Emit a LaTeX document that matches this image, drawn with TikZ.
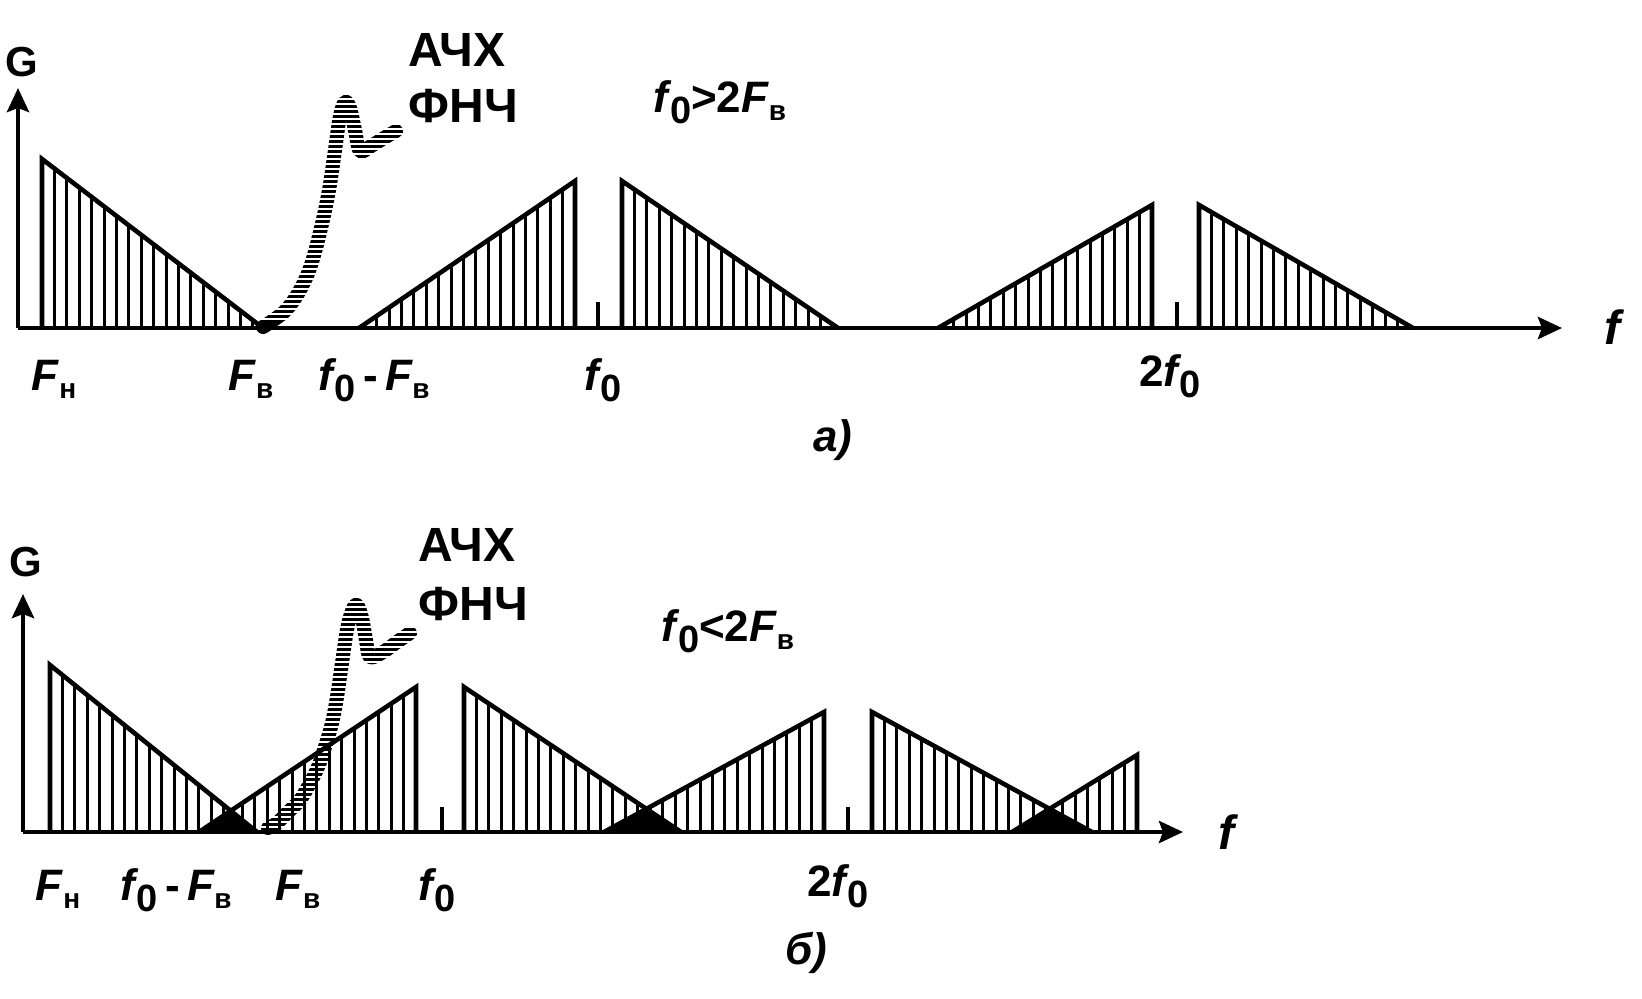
\documentclass[tikz,border=0pt]{standalone}
\usepackage{fontspec}
\setmainfont{Liberation Sans}
\usetikzlibrary{arrows.meta}

\newcommand\Fs[1]{{\itshape F}\kern0.3pt\raisebox{-0.35ex}{\fontsize{14}{14}\selectfont\bfseries #1}}
\newcommand\fo{{\itshape f}\kern0.8pt\raisebox{-0.5ex}{\fontsize{19}{19}\selectfont\bfseries 0}}

\tikzset{
  outline/.style={line width=2.3pt, line join=miter},
  hatch/.style={line width=1.5pt},
  axisline/.style={line width=2.3pt, -{Stealth[length=12pt,width=11pt,inset=2pt]}},
  tickline/.style={line width=1.8pt},
  lbl/.style={inner sep=0pt, font=\fontsize{22}{24}\selectfont\bfseries},
  big/.style={inner sep=0pt, anchor=west, font=\fontsize{24}{26}\selectfont\bfseries},
  filt/.style={line width=7pt, line cap=round, line join=round},
  stripe/.style={white, line width=1pt},
  overlap/.style={fill=black}
}

% hatched triangle: #1 x of vertical side, #2 top y, #3 x of base end, #4 baseline y
\newcommand\htri[4]{%
  \begin{scope}
    \clip (#1,#4) -- (#1,#2) -- (#3,#4) -- cycle;
    \pgfmathsetmacro\hs{(#3>#1)?12.4:-12.4}
    \foreach \i in {1,...,19} {\draw[hatch] ({#1+\i*\hs},#4) -- ({#1+\i*\hs},#2);}
  \end{scope}
  \draw[outline] (#3,#4) -- (#1,#2) -- (#1,#4);
}

\begin{document}
\begin{tikzpicture}[x=0.5pt,y=-0.5pt]
\useasboundingbox (0,0) rectangle (1642,998);

% ================= panel a =================
% filter response (AЧХ ФНЧ)
\draw[filt] plot[smooth, tension=0.6] coordinates {(263,327) (275,319) (287,309) (300,290) (311,265) (321,228) (329,190) (335,150) (340,116) (345,102) (350,108) (355,130) (360,151) (371,146) (384,138) (396,131)};
\begin{scope}
  \clip (236,80) rectangle (420,322);
  \foreach \y in {84,89,...,324} {\draw[stripe] (236,\y) -- (420,\y);}
\end{scope}

\htri{42}{159}{263}{328}
\htri{575}{181}{359}{328}
\htri{622}{181}{838}{328}
\htri{1152}{205}{938}{328}
\htri{1199}{205}{1413}{328}

\coordinate (ta1) at (598,328); \coordinate (ta1t) at (598,302);
\coordinate (ta2) at (1177,328); \coordinate (ta2t) at (1177,302);
\draw[tickline] (ta1) -- (ta1t);
\draw[tickline] (ta2) -- (ta2t);

\coordinate (oa) at (18,328);
\coordinate (ya) at (18,88);
\coordinate (xa) at (1562,328);
\draw[axisline] (oa) -- (ya);
\draw[axisline] (oa) -- (xa);

\node[lbl, font=\fontsize{21}{22}\selectfont\bfseries] (Ga) at (22,62) {G};
\node[big] (achA) at (408,50) {АЧХ};
\node[big] (fnchA) at (408,106) {ФНЧ};
\node[lbl, anchor=base] (condA) at (720,112) {\fo>2\Fs{в}};
\node[lbl, anchor=base] (lFnA) at (54,390) {\Fs{н}};
\node[lbl, anchor=base] (lFvA) at (251,390) {\Fs{в}};
\node[lbl, anchor=base] (lfFvA) at (374,390) {\fo\,-\,\Fs{в}};
\node[lbl, anchor=base] (lf0A) at (603,390) {\fo};
\node[lbl, anchor=base] (l2f0A) at (1170,386) {2\fo};
\node[lbl, font=\fontsize{24}{24}\selectfont\bfseries] (fA) at (1612,327) {\itshape f};
\node[lbl] (capA) at (833,440) {\itshape a)};

% ================= panel b =================
\draw[filt] plot[smooth, tension=0.6] coordinates {(268,828) (277,823) (287,813) (300,800) (310,783) (318,767) (325,747) (332,723) (337,697) (342,663) (347,630) (352,611) (357,605) (362,618) (366,640) (370,657) (383,652) (397,642) (410,633)};
\begin{scope}
  \clip (258,590) rectangle (425,829);
  \foreach \y in {592,597,...,832} {\draw[stripe] (258,\y) -- (425,\y);}
\end{scope}

\htri{50}{665}{257}{832}
\htri{416}{687}{199}{832}
\htri{464}{687}{681}{832}
\htri{824}{712}{604}{832}
\htri{872}{712}{1092}{832}
\htri{1137}{755}{1012}{832}

\fill[overlap] (199,832) -- (229.5,811.5) -- (257,832) -- cycle;
\fill[overlap] (604,832) -- (646.5,806.8) -- (681,832) -- cycle;
\fill[overlap] (1012,832) -- (1049.6,808.8) -- (1092,832) -- cycle;

\coordinate (tb1) at (442,832); \coordinate (tb1t) at (442,807);
\coordinate (tb2) at (848,832); \coordinate (tb2t) at (848,807);
\draw[tickline] (tb1) -- (tb1t);
\draw[tickline] (tb2) -- (tb2t);

\coordinate (ob) at (23,832);
\coordinate (yb) at (23,594);
\coordinate (xb) at (1183,832);
\draw[axisline] (ob) -- (yb);
\draw[axisline] (ob) -- (xb);

\node[lbl, font=\fontsize{21}{22}\selectfont\bfseries] (Gb) at (26,562) {G};
\node[big] (achB) at (418,545) {АЧХ};
\node[big] (fnchB) at (418,604) {ФНЧ};
\node[lbl, anchor=base] (condB) at (728,641) {\fo<2\Fs{в}};
\node[lbl, anchor=base] (lFnB) at (58,900) {\Fs{н}};
\node[lbl, anchor=base] (lfFvB) at (176,900) {\fo\,-\,\Fs{в}};
\node[lbl, anchor=base] (lFvB) at (298,900) {\Fs{в}};
\node[lbl, anchor=base] (lf0B) at (437,900) {\fo};
\node[lbl, anchor=base] (l2f0B) at (838,896) {2\fo};
\node[lbl, font=\fontsize{24}{24}\selectfont\bfseries] (fB) at (1226,832) {\itshape f};
\node[lbl] (capB) at (806,953) {\itshape б)};
\end{tikzpicture}
\end{document}
